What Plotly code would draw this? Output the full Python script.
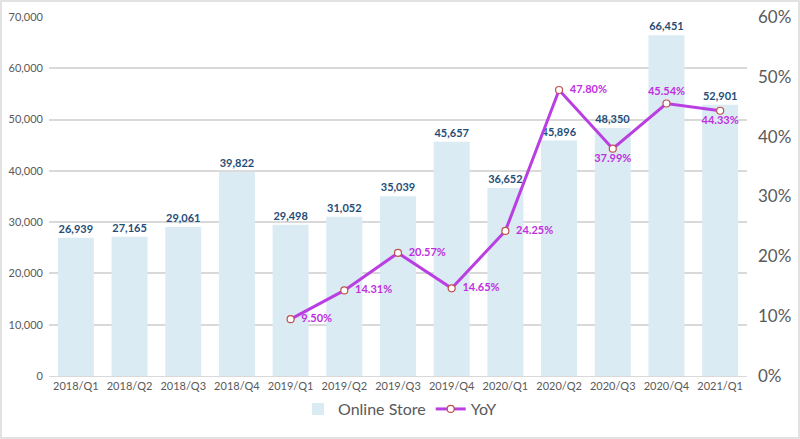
import plotly.graph_objects as go

quarters = ["2018/Q1", "2018/Q2", "2018/Q3", "2018/Q4", "2019/Q1", "2019/Q2", "2019/Q3",
            "2019/Q4", "2020/Q1", "2020/Q2", "2020/Q3", "2020/Q4", "2021/Q1"]
online_store = [26939, 27165, 29061, 39822, 29498, 31052, 35039, 45657, 36652, 45896, 48350, 66451, 52901]
yoy_quarters = quarters[4:]
yoy = [0.0950, 0.1431, 0.2057, 0.1465, 0.2425, 0.4780, 0.3799, 0.4554, 0.4433]
yoy_label_pos = ["middle right", "middle right", "middle right", "middle right", "middle right",
                 "middle right", "bottom center", "top center", "bottom center"]

FONT = "Lato, 'Open Sans', sans-serif"

fig = go.Figure()
fig.add_trace(go.Bar(
    x=quarters, y=online_store, name="Online Store",
    marker=dict(color="#DAEBF3", line=dict(width=0)),
    text=[f"{v:,}" for v in online_store], textposition="outside",
    textfont=dict(color="#1F4E79", size=11, family=FONT, weight="bold"),
    cliponaxis=False,
))
fig.add_trace(go.Scatter(
    x=yoy_quarters, y=yoy, name="YoY", yaxis="y2", mode="lines+markers+text",
    line=dict(color="#B93FE3", width=3),
    marker=dict(size=7, color="white", line=dict(color="#C0504D", width=1.2)),
    text=[f"  {v*100:.2f}%" if p == "middle right" else f"{v*100:.2f}%"
          for v, p in zip(yoy, yoy_label_pos)],
    textposition=yoy_label_pos,
    textfont=dict(color="#C030E0", size=11, family=FONT, weight="bold"),
    cliponaxis=False,
))

fig.update_layout(
    width=800, height=439,
    margin=dict(l=49, r=53, t=17, b=63),
    paper_bgcolor="white", plot_bgcolor="white",
    font=dict(family=FONT, color="#595959"),
    bargap=0.33,
    showlegend=True,
    legend=dict(orientation="h", x=0.5, xanchor="center", xref="container",
                y=0.107, yanchor="top", yref="container",
                font=dict(size=16, color="#595959"), traceorder="normal"),
    xaxis=dict(range=[-0.5, len(quarters) - 0.5], showgrid=False,
               tickfont=dict(size=11, color="#595959"), automargin=False,
               showline=True, linecolor="#D9D9D9", linewidth=1, ticks=""),
    yaxis=dict(range=[0, 70000], dtick=10000, tickformat=",", showgrid=True, automargin=False,
               gridcolor="#D9D9D9", gridwidth=1.5, zeroline=False, ticklabelstandoff=5,
               tickfont=dict(size=11, color="#595959")),
    yaxis2=dict(range=[0, 0.6], dtick=0.1, tickformat=".0%", overlaying="y", side="right",
                automargin=False, showgrid=False, zeroline=False, ticklabelstandoff=10,
                tickfont=dict(size=17, color="#595959")),
    shapes=[dict(type="rect", xref="paper", yref="paper", x0=-0.0688, x1=1.0745,
                 y0=-0.1727, y1=1.0446, line=dict(color="#D9D9D9", width=1.5))],
)

fig.write_html(
    "out.html",
    config={"displayModeBar": False},
    post_script=("document.body.style.margin='0px';"
                 "document.body.style.overflow='hidden';"
                 "document.documentElement.style.overflow='hidden';"),
)
